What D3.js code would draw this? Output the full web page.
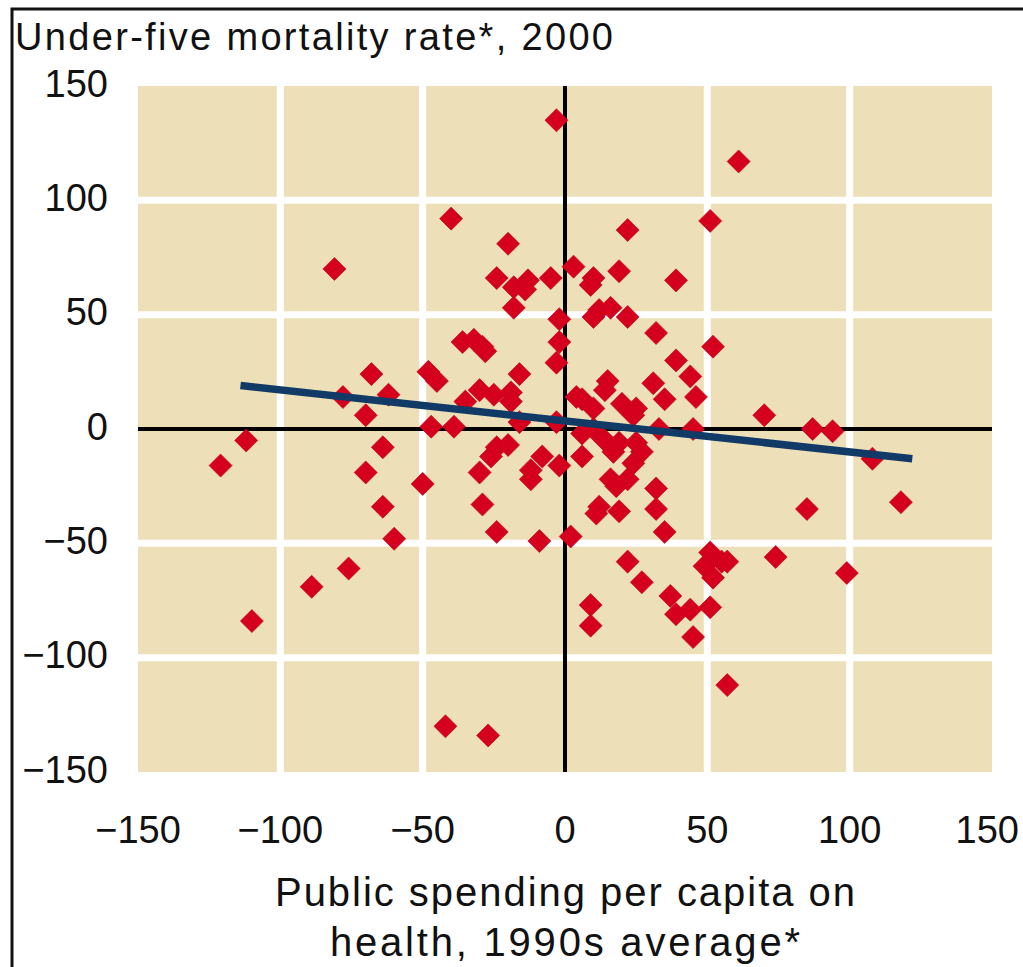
<!DOCTYPE html>
<html>
<head>
<meta charset="utf-8">
<script src="https://cdn.jsdelivr.net/npm/d3@7"></script>
<style>
  html, body { margin: 0; padding: 0; background: #fff; }
  svg { display: block; }
  text { font-family: "Liberation Sans", Arial, Helvetica, sans-serif; fill: #111; }
</style>
</head>
<body>
<svg id="chart" width="1023" height="967"></svg>
<script>
// Change in public health spending per capita (1990s average) vs. change in under-five mortality (2000)
const spending = [
  -121, -112, -110, -89, -81, -76,
  -78, -68, -62, -70, -64, -70, -64, -60, -50,
  -48, -45, -47, -39, -35, -30, -25, -19, -16, -19, -16,
  -40, -20, -24, -18, -13, -14, -5, -18,
  -36, -32, -29, -28,
  -2, -2, -3, -3, 3,
  -3,
  -24, -20, -26, -30, -8, -2, -12, -12,
  -29, -24, -9, 2,
  -42, -27,
  22, 51, 61, 10, 9, 19, 39,
  10, 12, 16, 22, 32, 52,
  39, 44, 46, 31, 35,
  15, 14, 6, 10, 4, 20, 25, 24,
  6, 10, 14, 17, 19, 25, 27, 24, 6, 33, 45,
  16, 22, 18, 32, 32, 35, 12, 19, 11,
  22, 27, 9, 9, 37, 39, 44, 51, 45,
  51, 49, 55, 52, 57,
  74, 99, 57,
  70, 87, 94, 108, 85, 118
];
const mortality = [
  -16, -5, -84, -69, 70, -61,
  14, 24, 15, 6, -8, -19, -34, -48, -24,
  25, 21, 1, 1, 12, 17, 15, 16, 24, 12, 3,
  92, 81, 66, 62, 65, 61, 66, 53,
  38, 39, 36, 34,
  48, 38, 29, 135, 71,
  3,
  -8, -7, -12, -19, -12, -16, -18, -22,
  -33, -45, -49, -47,
  -130, -134,
  87, 91, 117, 66, 63, 69, 65,
  49, 52, 53, 49, 42, 36,
  30, 23, 14, 20, 13,
  21, 17, 13, 9, 14, 11, 9, 6,
  -2, 0, -5, -10, -6, -6, -10, -15, -12, 0, 0,
  -22, -22, -25, -26, -35, -45, -34, -36, -37,
  -58, -67, -77, -86, -73, -81, -79, -78, -91,
  -54, -60, -58, -65, -58,
  -56, -63, -112,
  6, 0, -1, -13, -35, -32
];

// Fitted trend line endpoints
const trendX = [-114, 122];
const trendY = [19, -13];

const xTicks = [-150, -100, -50, 0, 50, 100, 150];
const yTicks = [-150, -100, -50, 0, 50, 100, 150];

const titleText = "Under-five mortality rate*, 2000";
const xTitleLines = ["Public spending per capita on", "health, 1990s average*"];

const W = 1023;
const svg = d3.select("#chart");

const x = d3.scaleLinear().domain([-150, 150]).range([138, 992]);
const y = d3.scaleLinear().domain([-150, 150]).range([772, 86]);
const fmt = d3.format("d");

// stretch a line of text to a given overall width
function fitWidth(sel, width) {
  sel.attr("textLength", width).attr("lengthAdjust", "spacing");
}

// frame
svg.append("path")
  .attr("d", `M12,967 V9 H${W}`)
  .attr("fill", "none")
  .attr("stroke", "#111")
  .attr("stroke-width", 3);

// plot background
svg.append("rect")
  .attr("x", x(-150)).attr("y", y(150))
  .attr("width", x(150) - x(-150))
  .attr("height", y(-150) - y(150))
  .attr("fill", "#ede0b9");

// white grid
const inner = v => v !== 0 && Math.abs(v) !== 150;
svg.append("g").selectAll("line")
  .data(xTicks.filter(inner)).join("line")
  .attr("x1", d => x(d)).attr("x2", d => x(d))
  .attr("y1", y(150)).attr("y2", y(-150))
  .attr("stroke", "#fff").attr("stroke-width", 7);
svg.append("g").selectAll("line")
  .data(yTicks.filter(inner)).join("line")
  .attr("y1", d => y(d)).attr("y2", d => y(d))
  .attr("x1", x(-150)).attr("x2", x(150))
  .attr("stroke", "#fff").attr("stroke-width", 7);

// zero axes
svg.append("line")
  .attr("x1", x(0)).attr("x2", x(0)).attr("y1", y(150)).attr("y2", y(-150))
  .attr("stroke", "#000").attr("stroke-width", 4);
svg.append("line")
  .attr("y1", y(0)).attr("y2", y(0)).attr("x1", x(-150)).attr("x2", x(150))
  .attr("stroke", "#000").attr("stroke-width", 4);

// points
const diamond = d3.symbol().type(d3.symbolSquare).size(265)();
const pts = spending.map((v, i) => [v, mortality[i]]);
svg.append("g").selectAll("path")
  .data(pts).join("path")
  .attr("d", diamond)
  .attr("transform", d => `translate(${x(d[0])},${y(d[1])}) rotate(45)`)
  .attr("fill", "#d5001e")
  .attr("stroke", "#c2001b")
  .attr("stroke-width", 0.6);

// trend line
svg.append("line")
  .attr("x1", x(trendX[0])).attr("y1", y(trendY[0]))
  .attr("x2", x(trendX[1])).attr("y2", y(trendY[1]))
  .attr("stroke", "#123a66").attr("stroke-width", 7.5);

// y tick labels
svg.append("g").selectAll("text")
  .data(yTicks).join("text")
  .attr("x", 108).attr("y", d => y(d) - 3)
  .attr("dy", "0.36em")
  .attr("text-anchor", "end")
  .attr("font-size", 38)
  .text(d => fmt(d));

// x tick labels (keep the last one inside the frame)
svg.append("g").selectAll("text")
  .data(xTicks).join("text")
  .attr("x", d => x(d)).attr("y", 843)
  .attr("text-anchor", "middle")
  .attr("font-size", 38)
  .text(d => fmt(d))
  .each(function () {
    const w = this.getComputedTextLength();
    const cx = +this.getAttribute("x");
    if (cx + w / 2 > W - 4) {
      d3.select(this).attr("x", W - 4).attr("text-anchor", "end");
    }
  });

// chart title
svg.append("text")
  .attr("x", 15).attr("y", 50)
  .attr("font-size", 38)
  .text(titleText)
  .call(fitWidth, 598);

// x axis title
const xTitleWidths = [580, 470];
svg.append("g").selectAll("text")
  .data(xTitleLines).join("text")
  .attr("x", 565).attr("y", (d, i) => 906 + i * 50)
  .attr("text-anchor", "middle")
  .attr("font-size", 40)
  .text(d => d)
  .each(function (d, i) { d3.select(this).call(fitWidth, xTitleWidths[i]); });
</script>
</body>
</html>
